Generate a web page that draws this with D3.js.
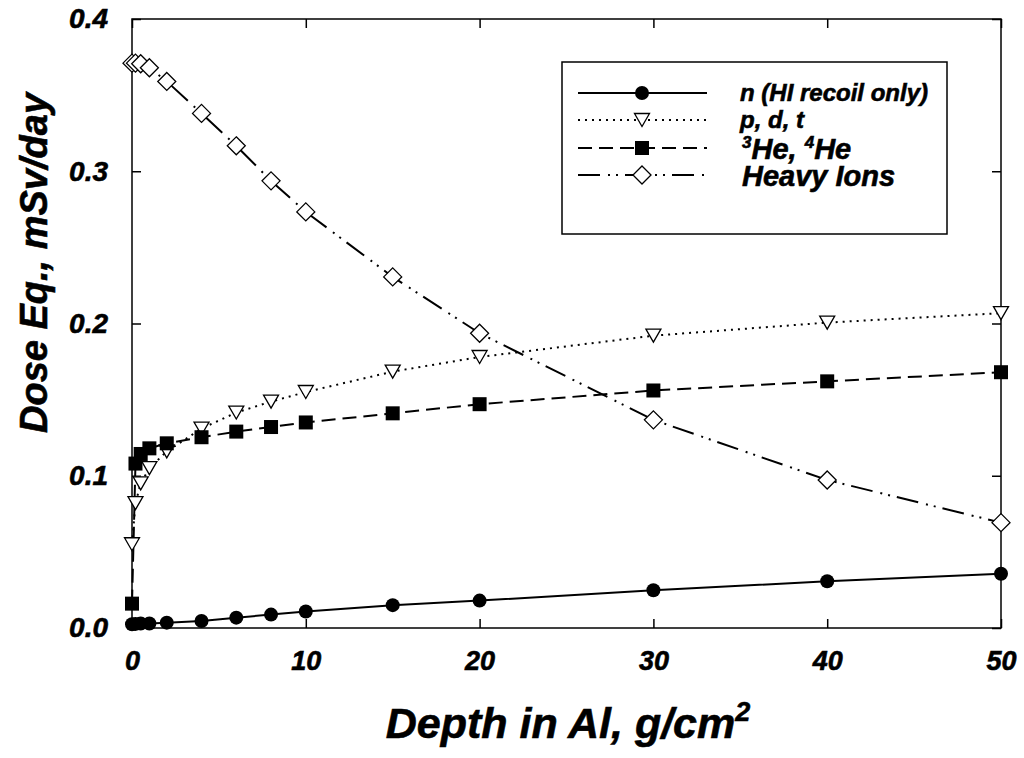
<!DOCTYPE html>
<html>
<head>
<meta charset="utf-8">
<script src="https://cdn.jsdelivr.net/npm/d3@7/dist/d3.min.js"></script>
<style>
  body { margin: 0; background: #fff; }
  svg { display: block; }
  text { font-family: "Liberation Sans", Arial, sans-serif; font-weight: bold; font-style: italic; fill: #000; stroke: #000; stroke-width: 0.6; }
</style>
</head>
<body>
<svg id="chart" width="1024" height="758"></svg>
<script>
// depth in Al (g/cm2) shared by all four series
const depth = [0, 0.2, 0.5, 1, 2, 4, 6, 8, 10, 15, 20, 30, 40, 50];

// dose equivalent, mSv/day
const neutron = [0.0025, 0.0027, 0.003, 0.003, 0.0035, 0.0046, 0.0068, 0.0088, 0.0108, 0.015, 0.018, 0.0248, 0.0307, 0.0356];
const pdt     = [0.055, 0.082, 0.095, 0.105, 0.116, 0.131, 0.1415, 0.1487, 0.155, 0.1684, 0.178, 0.192, 0.2006, 0.2068];
const helium  = [0.016, 0.108, 0.1143, 0.118, 0.1213, 0.1253, 0.129, 0.132, 0.135, 0.141, 0.147, 0.156, 0.162, 0.168];
const heavy   = [0.371, 0.371, 0.3706, 0.368, 0.359, 0.338, 0.3167, 0.2937, 0.2733, 0.2306, 0.1936, 0.1367, 0.0972, 0.0692];

const xTicks = [0, 10, 20, 30, 40, 50];
const yTicks = [0, 0.1, 0.2, 0.3, 0.4];

const svg = d3.select('#chart');
const plotL = 132, plotR = 1001, plotT = 19, plotB = 628;

const x = d3.scaleLinear().domain([0, 50]).range([plotL, plotR]);
const y = d3.scaleLinear().domain([0, 0.4]).range([plotB, plotT]);

// marker shapes
const marker = {
  circle: g => g.append('circle').attr('r', 7).attr('fill', '#000'),
  square: g => g.append('rect').attr('x', -7).attr('y', -7).attr('width', 14).attr('height', 14).attr('fill', '#000'),
  triangle: g => g.append('path').attr('d', 'M-7.5,-6.5L7.5,-6.5L0,6.5Z').attr('fill', '#fff').attr('stroke', '#000').attr('stroke-width', 1.3),
  diamond: g => g.append('path').attr('d', 'M0,-9L9,0L0,9L-9,0Z').attr('fill', '#fff').attr('stroke', '#000').attr('stroke-width', 1.3)
};

const series = [
  { name: 'n', values: neutron, dash: null, shape: 'circle' },
  { name: 'pdt', values: pdt, dash: '2,5', shape: 'triangle' },
  { name: 'he', values: helium, dash: '14,7', shape: 'square' },
  { name: 'hi', values: heavy, dash: '22,8,2,6,2,7', shape: 'diamond' }
];

// axes, ticks pointing inward on all four sides
const tickLen = 9;
svg.append('g').attr('transform', `translate(0,${plotB})`)
  .call(d3.axisBottom(x).tickValues(xTicks).tickSizeInner(-tickLen).tickSizeOuter(0).tickPadding(tickLen + 14))
  .call(g => g.select('.domain').remove())
  .call(g => g.selectAll('text').attr('font-size', 27).attr('dy', '0.71em'));

svg.append('g').attr('transform', `translate(0,${plotT})`)
  .call(d3.axisTop(x).tickValues(xTicks).tickSizeInner(-tickLen).tickSizeOuter(0).tickFormat(''))
  .call(g => g.select('.domain').remove());

svg.append('g').attr('transform', `translate(${plotL},0)`)
  .call(d3.axisLeft(y).tickValues(yTicks).tickSizeInner(-tickLen).tickSizeOuter(0).tickPadding(tickLen + 15).tickFormat(d3.format('.1f')))
  .call(g => g.select('.domain').remove())
  .call(g => g.selectAll('text').attr('font-size', 28));

svg.append('g').attr('transform', `translate(${plotR},0)`)
  .call(d3.axisRight(y).tickValues(yTicks).tickSizeInner(-tickLen).tickSizeOuter(0).tickFormat(''))
  .call(g => g.select('.domain').remove());

svg.selectAll('.tick line').attr('stroke', '#000').attr('stroke-width', 1.5);
svg.selectAll('.tick text').attr('fill', '#000');

svg.append('rect')
  .attr('x', plotL).attr('y', plotT).attr('width', plotR - plotL).attr('height', plotB - plotT)
  .attr('fill', 'none').attr('stroke', '#000').attr('stroke-width', 1.5);

// lines
const line = d3.line().x(d => x(d[0])).y(d => y(d[1]));
series.forEach(s => {
  const pts = depth.map((d, i) => [d, s.values[i]]);
  svg.append('path').datum(pts)
    .attr('d', line)
    .attr('fill', 'none').attr('stroke', '#000').attr('stroke-width', 2)
    .attr('stroke-dasharray', s.dash);
});

// markers
series.forEach(s => {
  depth.forEach((d, i) => {
    const g = svg.append('g').attr('transform', `translate(${x(d)},${y(s.values[i])})`);
    marker[s.shape](g);
  });
});

// axis titles
svg.append('text')
  .attr('transform', 'translate(47,263) rotate(-90)')
  .attr('text-anchor', 'middle').attr('font-size', 38).attr('stroke-width', 1)
  .text('Dose Eq., mSv/day');

const xt = svg.append('text')
  .attr('x', 568).attr('y', 738).attr('text-anchor', 'middle').attr('font-size', 43).attr('stroke-width', 1);
xt.append('tspan').text('Depth in Al, g/cm');
xt.append('tspan').attr('dy', -17).attr('font-size', 27).text('2');

// legend
const lg = svg.append('g');
lg.append('rect').attr('x', 562).attr('y', 62).attr('width', 385).attr('height', 172)
  .attr('fill', '#fff').attr('stroke', '#000').attr('stroke-width', 1.5);

const legendRows = [93, 120, 148, 175];
series.forEach((s, i) => {
  const ly = legendRows[i];
  lg.append('line').attr('x1', 578).attr('x2', 707).attr('y1', ly).attr('y2', ly)
    .attr('stroke', '#000').attr('stroke-width', 2).attr('stroke-dasharray', s.dash);
  marker[s.shape](lg.append('g').attr('transform', `translate(642,${ly})`));
});

lg.append('text').attr('x', 740).attr('y', 101).attr('font-size', 24).text('n (HI recoil only)');
lg.append('text').attr('x', 740).attr('y', 128).attr('font-size', 24).text('p, d, t');
const heT = lg.append('text').attr('x', 742).attr('y', 159).attr('font-size', 29);
heT.append('tspan').attr('font-size', 17).attr('dy', -11).text('3');
heT.append('tspan').attr('dy', 11).text('He, ');
heT.append('tspan').attr('font-size', 17).attr('dy', -11).text('4');
heT.append('tspan').attr('dy', 11).text('He');
lg.append('text').attr('x', 742).attr('y', 186).attr('font-size', 29).text('Heavy Ions');
</script>
</body>
</html>
